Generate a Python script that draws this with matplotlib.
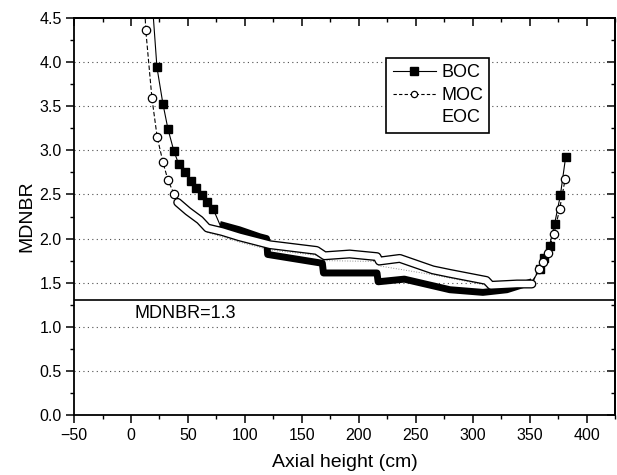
import matplotlib
matplotlib.use('Agg')
import matplotlib.pyplot as plt
from matplotlib.lines import Line2D
from matplotlib.ticker import MultipleLocator, NullFormatter, FormatStrFormatter

plt.rcParams['font.family'] = ['Liberation Sans', 'DejaVu Sans']

# BOC: sparse squares at both ends, dense band in the middle
boc_left_x = [18, 22.8, 28, 32.5, 37.7, 42, 47, 52.6, 57, 62, 66.7, 72]
boc_left_y = [4.8, 3.94, 3.53, 3.24, 2.99, 2.84, 2.75, 2.65, 2.57, 2.49, 2.41, 2.34]
boc_band_x = [78, 95, 113, 119, 120, 168, 169, 216, 217, 240, 280, 309, 330, 352]
boc_band_y = [2.16, 2.10, 2.02, 2.00, 1.82, 1.72, 1.61, 1.61, 1.51, 1.54, 1.42, 1.39, 1.42, 1.51]
boc_right_x = [359.5, 362.5, 367.5, 372, 377, 381.6]
boc_right_y = [1.66, 1.78, 1.92, 2.17, 2.49, 2.92]

# MOC: open circles at both ends, dense band in the middle
moc_left_x = [11, 13, 18.4, 23, 28, 32.5, 37.7]
moc_left_y = [4.9, 4.36, 3.59, 3.15, 2.87, 2.66, 2.51]
moc_band_x = [41, 50, 60.5, 67, 80, 95, 113, 122, 163, 170, 192, 216, 218, 236, 265, 280, 312, 316, 339, 352]
moc_band_y = [2.41, 2.31, 2.21, 2.12, 2.08, 2.02, 1.96, 1.93, 1.865, 1.805, 1.825, 1.795, 1.745,
              1.775, 1.645, 1.605, 1.525, 1.47, 1.485, 1.485]
moc_right_x = [358, 361.6, 365.8, 371.3, 376.3, 381.3]
moc_right_y = [1.65, 1.73, 1.84, 2.05, 2.33, 2.68]

# EOC: faint in the scan, just under the MOC band
eoc_x = [67, 95, 122, 163, 170, 216, 218, 265, 312, 352]
eoc_y = [2.07, 1.96, 1.87, 1.81, 1.75, 1.74, 1.69, 1.59, 1.47, 1.45]

limit = 1.3

fig = plt.figure(figsize=(6.17, 4.75), dpi=100)
ax = fig.add_axes([0.12, 0.1263, 0.8768, 0.8358])

ax.plot(eoc_x, eoc_y, color='0.55', lw=0.7, ls=':', zorder=2)

# BOC
ax.plot(boc_left_x + boc_band_x + boc_right_x, boc_left_y + boc_band_y + boc_right_y,
        color='k', lw=0.8, zorder=3)
ax.plot(boc_band_x, boc_band_y, color='k', lw=5, solid_capstyle='butt', zorder=3)
ax.plot(boc_left_x + boc_right_x, boc_left_y + boc_right_y, ls='none', marker='s',
        ms=5.5, color='k', zorder=4)

# MOC
ax.plot(moc_left_x + moc_band_x + moc_right_x, moc_left_y + moc_band_y + moc_right_y,
        color='k', lw=0.8, ls=(0, (4, 2)), zorder=5)
ax.plot(moc_band_x, moc_band_y, color='k', lw=6.5, solid_capstyle='round', zorder=5)
ax.plot(moc_band_x, moc_band_y, color='white', lw=4.6, solid_capstyle='round', zorder=5)
ax.plot(moc_left_x + moc_right_x, moc_left_y + moc_right_y, ls='none', marker='o',
        ms=6, mfc='white', mec='k', mew=0.9, zorder=6)

ax.axhline(limit, color='k', lw=1.2, zorder=2)
ax.text(3, 1.15, 'MDNBR=1.3', fontsize=13, ha='left', va='center')

ax.set_xlim(-50, 425)
ax.set_ylim(0, 4.5)
ax.xaxis.set_major_locator(MultipleLocator(50))
ax.xaxis.set_minor_locator(MultipleLocator(25))
ax.yaxis.set_major_locator(MultipleLocator(0.5))
ax.yaxis.set_minor_locator(MultipleLocator(0.25))
ax.yaxis.set_major_formatter(FormatStrFormatter('%.1f'))
ax.yaxis.grid(True, which='major', ls=(0, (1, 3)), color='0.3', lw=0.8)
ax.set_axisbelow(True)

ax.tick_params(which='major', direction='out', length=6, width=1.1, labelsize=11.5, pad=3)
ax.tick_params(which='minor', direction='out', length=3, width=1.0)
for s in ax.spines.values():
    s.set_linewidth(1.3)

top = ax.secondary_xaxis('top')
top.xaxis.set_major_locator(MultipleLocator(50))
top.xaxis.set_minor_locator(MultipleLocator(25))
top.xaxis.set_major_formatter(NullFormatter())
top.tick_params(which='major', direction='in', length=6, width=1.1)
top.tick_params(which='minor', direction='in', length=3, width=1.0)
top.spines['top'].set_linewidth(1.3)

right = ax.secondary_yaxis('right')
right.yaxis.set_major_locator(MultipleLocator(0.5))
right.yaxis.set_minor_locator(MultipleLocator(0.25))
right.yaxis.set_major_formatter(NullFormatter())
right.tick_params(which='major', direction='in', length=6, width=1.1)
right.tick_params(which='minor', direction='in', length=3, width=1.0)
right.spines['right'].set_linewidth(1.3)

ax.set_xlabel('Axial height (cm)', fontsize=14, labelpad=8)
ax.set_ylabel('MDNBR', fontsize=14, labelpad=3)

h_boc = Line2D([], [], color='k', lw=0.8, marker='s', ms=5.5)
h_moc = Line2D([], [], color='k', lw=0.8, ls=(0, (3, 2)), marker='o', ms=4.5,
               mfc='white', mec='k', mew=0.9)
h_eoc = Line2D([], [], color='none')
leg = ax.legend([h_boc, h_moc, h_eoc], ['BOC', 'MOC', 'EOC'], loc='upper left',
                bbox_to_anchor=(0.577, 0.899), fontsize=13, frameon=True, fancybox=False,
                edgecolor='k', framealpha=1, handlelength=2.4, handletextpad=0.3,
                labelspacing=0.3, borderpad=0.35, borderaxespad=0)
leg.get_frame().set_linewidth(1.2)

fig.savefig('out.png', dpi=100)
